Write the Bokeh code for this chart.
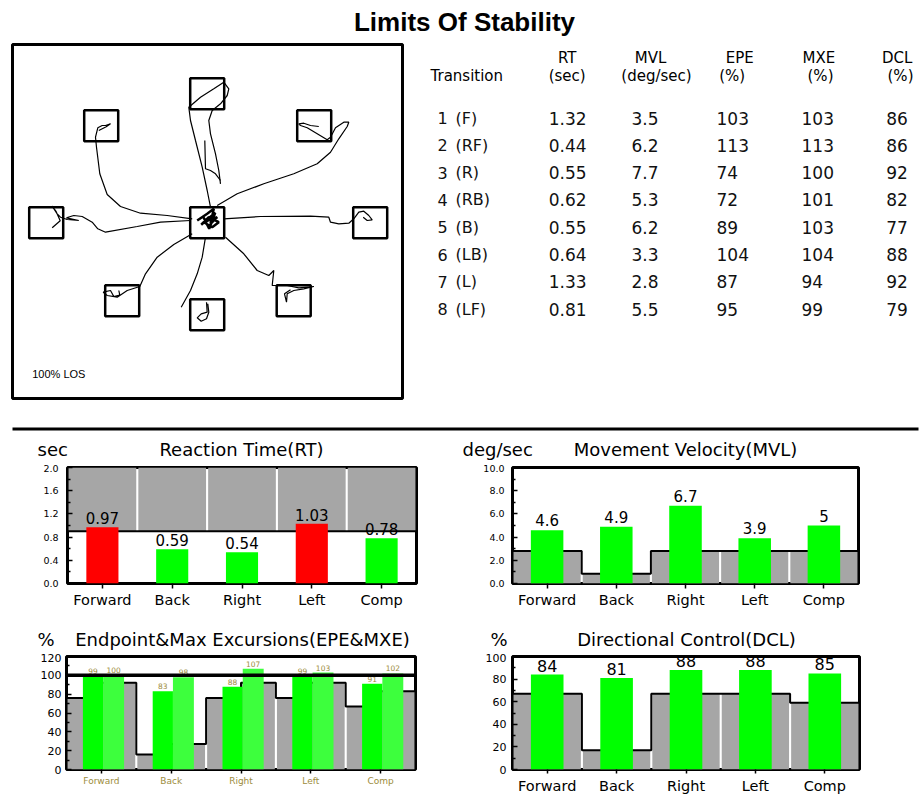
import numpy as np
from bokeh.plotting import figure
from bokeh.layouts import column, row
from bokeh.models import (ColumnDataSource, Range1d, FactorRange, Span,
                          FixedTicker, PrintfTickFormatter)
from bokeh.transform import dodge
from bokeh.core.properties import value
from bokeh.embed import file_html
from bokeh.resources import INLINE

# ---------------- data ----------------
MAIN_TITLE = "Limits Of Stability"
directions = ["Forward", "Back", "Right", "Left", "Comp"]

rt_values = [0.97, 0.59, 0.54, 1.03, 0.78]
rt_norm = [0.90, 0.90, 0.90, 0.90, 0.90]

mvl_values = [4.6, 4.9, 6.7, 3.9, 5.0]
mvl_labels = ["4.6", "4.9", "6.7", "3.9", "5"]
mvl_norm = [2.8, 0.85, 2.8, 2.8, 2.8]

epe_values = [99, 83, 88, 99, 91]
mxe_values = [100, 98, 107, 103, 102]
epe_norm = [76, 16, 76, 76, 67]
mxe_norm = [92, 27, 92, 92, 83]
epe_reference = 100

dcl_values = [84, 81, 88, 88, 85]
dcl_norm = [67, 17, 67, 67, 59]

chart_titles = ["Reaction Time(RT)", "Movement Velocity(MVL)",
                "Endpoint&Max Excursions(EPE&MXE)", "Directional Control(DCL)"]
chart_units = ["sec", "deg/sec", "%", "%"]

# summary table
tbl_num = ["1", "2", "3", "4", "5", "6", "7", "8"]
tbl_code = ["(F)", "(RF)", "(R)", "(RB)", "(B)", "(LB)", "(L)", "(LF)"]
tbl_rt = [1.32, 0.44, 0.55, 0.62, 0.55, 0.64, 1.33, 0.81]
tbl_mvl = [3.5, 6.2, 7.7, 5.3, 6.2, 3.3, 2.8, 5.5]
tbl_epe = [103, 113, 74, 72, 89, 104, 87, 95]
tbl_mxe = [103, 113, 100, 101, 103, 104, 94, 99]
tbl_dcl = [86, 86, 92, 82, 77, 88, 92, 79]
tbl_head1 = ["RT", "MVL", "EPE", "MXE", "DCL"]
tbl_head2 = ["(sec)", "(deg/sec)", "(%)", "(%)", "(%)"]

# LOS targets (centre + 8 directions), traces in the same units
target_x = [0, 0, 107, 163, 86.5, 0, -85, -161, -106]
target_y = [0, 129, 97, 0, -78, -92, -78, 0, 97]

trace_F = [(3.3, 15.5), (0, 32.2), (-5, 55.5), (-11.7, 82.2), (-16.7, 102.2), (-18.4, 115.5),
           (-6.7, 125.5), (6.6, 133.9), (16.6, 140.5), (21.6, 133.9), (20, 127.2), (13.3, 118.9),
           (5, 112.2), (1.6, 102.2), (3.3, 88.9), (8.3, 68.9), (11.6, 52.2), (13.3, 38.9)]
trace_F2 = [(-2.4, 82.2), (-1.7, 53.9), (3.3, 52.2), (8.3, 48.9), (13.3, 42.2)]
trace_RF = [(10, 17.2), (30, 28.9), (56.6, 38.9), (86.6, 48.9), (110, 58.9), (123.3, 70.5),
            (131.6, 83.9), (140, 96.2), (141.6, 100.5), (136.6, 100.5), (128.3, 94.9),
            (123.3, 85.5), (120, 82.9), (110, 88.9), (100, 94.9), (93.3, 97.2), (91.6, 98.9),
            (96.6, 99.5), (103.3, 97.2), (111.6, 96.2)]
trace_R = [(16.6, 3.9), (53.3, 6.2), (103.3, 6.5), (121.6, 5.5), (123.3, 0.5), (131.6, -1.1),
           (141.6, -0.5), (146.6, 3.9), (151.6, 10.5), (156.6, 11.5), (161.6, 7.2), (165, 2.9),
           (160, 2.2), (156, 5.5)]
trace_RB = [(18.3, -14.5), (36.6, -31.1), (50, -47.8), (61.6, -52.8), (66.6, -47.8), (65, -62.8),
            (80, -62.8), (91.6, -65.1), (106.6, -63.8), (96.6, -66.1), (86.6, -67.8), (80, -71.1),
            (79.3, -79.5), (77.3, -71.1), (83.3, -67.1)]
trace_B = [(-1.7, -14.5), (-5, -34.5), (-10, -51.1), (-16.7, -67.8), (-26, -84.5)]
trace_B2 = [(-0.7, -79.5), (0, -89.5), (-6, -91.1), (-10, -95.1), (-6, -98.5), (-0.7, -96.1),
            (1.6, -89.5), (0.6, -81.1)]
trace_LB = [(-15, -11.1), (-33.4, -21.8), (-50, -34.5), (-61.7, -51.1), (-67.4, -63.8),
            (-80, -67.8), (-90, -74.5), (-100, -72.8), (-104, -69.5), (-96.7, -67.8),
            (-93.4, -73.8), (-87.4, -72.5), (-88.4, -67.8)]
trace_L = [(-16.7, 2.2), (-46.7, 0.5), (-70, -3.8), (-101.7, -9.5), (-109.4, -6.1), (-115, 0.5),
           (-125, 6.2), (-133.4, 7.2), (-140.7, 4.9), (-128.4, 2.2), (-140, 3.2), (-146.7, 5.5),
           (-150, 8.9), (-155, 16.5), (-151, 11), (-147, 2), (-155, -5.1)]
trace_LF = [(-15, 3.9), (-40, 7.2), (-66.7, 9.5), (-86.7, 16.2), (-100, 28.2), (-107.4, 48.9),
            (-110.7, 75.5), (-111.7, 85.5), (-109.4, 94.9), (-105, 97.2), (-101.7, 97.2),
            (-96.7, 98.9), (-101, 96), (-108.4, 92.2)]
trace_C = [(-10, 2.2), (0, 8.9), (6.6, 13.9), (3.3, -1.1), (10, 5.5), (-3.4, 0.5), (5, -4.5),
           (11.6, 0.5), (1.6, 5.5), (-6, -2), (8, 10), (2, -6), (-4, 6)]
traces = [trace_F, trace_F2, trace_RF, trace_R, trace_RB, trace_B, trace_B2, trace_LB, trace_L, trace_LF]

# ---------------- styling ----------------
FONT = "DejaVu Sans"
GRAY = "#a6a6a6"
GREEN = "#00ff00"
GREEN2 = "#3dff3d"
RED = "#ff0000"
OLIVE = "#9c8c3c"
W = 921


def blank(width, height, xr, yr):
    p = figure(width=width, height=height, x_range=xr, y_range=yr, title=None,
               output_backend="svg", toolbar_location=None, tools="",
               x_axis_location=None, y_axis_location=None, min_border=0)
    p.grid.visible = False
    p.outline_line_color = None
    return p


def txt(p, x, y, s, size, align="left", font=FONT, style="normal", color="black"):
    p.text(x=[x], y=[y], text=[s], text_align=align, text_baseline="middle",
           text_font=value(font), text_font_style=style, text_font_size=size, text_color=color)


# title strip (page y 0-42)
title_fig = blank(W, 42, Range1d(0, W), Range1d(42, 0))
txt(title_fig, 464, 21, MAIN_TITLE, "26px", align="center", font="Liberation Sans", style="bold")

# trajectory plot (page y 42-414)
traj = figure(width=410, height=372, x_range=Range1d(-194.7, 195.3), y_range=Range1d(-175.8, 178.2),
              title=None, output_backend="svg", toolbar_location=None, tools="",
              x_axis_location=None, y_axis_location=None,
              min_border_left=12, min_border_right=8, min_border_top=2, min_border_bottom=16)
traj.grid.visible = False
traj.outline_line_color = "black"
traj.outline_line_width = 3
traj.rect(x=target_x, y=target_y, width=34, height=31, fill_color=None,
          line_color="black", line_width=2.5)
traj.multi_line(xs=[[p[0] for p in t] for t in traces], ys=[[p[1] for p in t] for t in traces],
                line_color="black", line_width=1.2)
traj.line(x=[p[0] for p in trace_C], y=[p[1] for p in trace_C], line_color="black", line_width=2.5)
traj.text(x=[-175], y=[-151], text=["100% LOS"], text_font=value("Liberation Sans"),
          text_font_size="11px", text_baseline="middle", text_color="black")

# table (page coordinates)
table = blank(W - 410, 372, Range1d(410, W), Range1d(414, 42))
head_x = [566.7, 650, 739.3, 818.3, 896.7]
head2_x = [566.7, 656, 731.7, 820, 900]
for hx, h in zip(head_x, tbl_head1):
    txt(table, hx, 56.7, h, "15px", align="center")
for hx, h in zip(head2_x, tbl_head2):
    txt(table, hx, 75, h, "15px", align="center")
txt(table, 430, 75, "Transition", "15px")
row_y = [119.3 + i * 28.7 for i in range(len(tbl_num))]
cols = [(437, tbl_num, "16px"), (455, tbl_code, "16px"),
        (548.3, [f"{v:.2f}" for v in tbl_rt], "17px"),
        (631, [f"{v:.1f}" for v in tbl_mvl], "17px"),
        (716, [str(v) for v in tbl_epe], "17px"),
        (801, [str(v) for v in tbl_mxe], "17px"),
        (885.7, [str(v) for v in tbl_dcl], "17px")]
for cx, texts, fs in cols:
    table.text(x=[cx] * len(texts), y=row_y, text=texts, text_align="left", text_baseline="middle",
               text_font=value(FONT), text_font_size=fs, text_color="#111111")

# separator + header of first chart row (page y 414-464)
head1 = blank(W, 50, Range1d(0, W), Range1d(464, 414))
head1.line(x=[12, 918], y=[428.5, 428.5], line_color="black", line_width=3)
txt(head1, 37, 449, chart_units[0], "18px")
txt(head1, 241, 449, chart_titles[0], "18px", align="center")
txt(head1, 462, 449, chart_units[1], "18px")
txt(head1, 685, 449, chart_titles[1], "18px", align="center")

# header of second chart row (page y 612-653)
head2 = blank(W, 41, Range1d(0, W), Range1d(653, 612))
txt(head2, 37, 639, chart_units[2], "18px")
txt(head2, 242, 639, chart_titles[2], "18px", align="center")
txt(head2, 490, 639, chart_units[3], "18px")
txt(head2, 686, 639, chart_titles[3], "18px", align="center")


def chart(width, height, borders, ymax, step, fmt, ytick_size, ystandoff,
          xlab_size, xlab_color, xtick_out, xstandoff):
    left, right, top, bottom = borders
    p = figure(width=width, height=height, title=None,
               x_range=FactorRange(*directions), y_range=Range1d(0, ymax),
               output_backend="svg", toolbar_location=None, tools="",
               min_border_left=left, min_border_right=right,
               min_border_top=top, min_border_bottom=bottom)
    p.grid.visible = False
    p.outline_line_color = "black"
    p.outline_line_width = 3
    ticks = list(np.round(np.arange(0, ymax + 1e-9, step), 6))
    minors = list(np.round(np.arange(step / 2, ymax, step), 6))
    ya = p.yaxis[0]
    ya.ticker = FixedTicker(ticks=ticks, minor_ticks=minors)
    ya.formatter = PrintfTickFormatter(format=fmt)
    ya.axis_line_color = None
    ya.major_tick_in = 5
    ya.major_tick_out = 0
    ya.minor_tick_in = 3
    ya.minor_tick_out = 0
    ya.major_tick_line_width = 1.5
    ya.minor_tick_line_width = 1.5
    ya.major_label_text_font = FONT
    ya.major_label_text_font_size = ytick_size
    ya.major_label_standoff = ystandoff
    ya.major_label_text_color = "black"
    xa = p.xaxis[0]
    xa.axis_line_color = None
    xa.major_tick_in = 0
    xa.major_tick_out = xtick_out
    xa.major_tick_line_width = 1.5
    xa.major_label_text_font = FONT
    xa.major_label_text_font_size = xlab_size
    xa.major_label_text_color = xlab_color
    xa.major_label_standoff = xstandoff
    return p


edges = list(range(len(directions) + 1))

# Reaction time (page y 464-612)
rt = chart(460, 148, (67, 44, 3, 29), 2.0, 0.4, "%.1f", "9.5px", 9, "14.5px", "black", 5, 3)
rt.vbar(x=directions, bottom=rt_norm, top=2.0, width=0.97, fill_color=GRAY, line_color=None)
rt.step(x=edges, y=rt_norm + [rt_norm[-1]], mode="after", line_color="black", line_width=2)
rt_src = ColumnDataSource(dict(cat=directions, v=rt_values, lab=[f"{v:.2f}" for v in rt_values],
                               c=[RED if v > n else GREEN for v, n in zip(rt_values, rt_norm)]))
rt.vbar(x="cat", top="v", width=0.46, fill_color="c", line_color=None, source=rt_src)
rt.text(x="cat", y="v", text="lab", source=rt_src, text_align="center", text_baseline="bottom",
        y_offset=-3, text_font=value(FONT), text_font_size="15px", text_color="black")

# Movement velocity
mvl = chart(461, 148, (52, 63, 3, 29), 10.0, 2.0, "%.1f", "9.5px", 8, "14.5px", "black", 5, 3)
mvl.vbar(x=directions, top=mvl_norm, width=0.97, fill_color=GRAY, line_color=None)
mvl.step(x=edges, y=mvl_norm + [mvl_norm[-1]], mode="after", line_color="black", line_width=2)
mvl_src = ColumnDataSource(dict(cat=directions, v=mvl_values, lab=mvl_labels))
mvl.vbar(x="cat", top="v", width=0.47, fill_color=GREEN, line_color=None, source=mvl_src)
mvl.text(x="cat", y="v", text="lab", source=mvl_src, text_align="center", text_baseline="bottom",
         y_offset=-4, text_font=value(FONT), text_font_size="15px", text_color="black")

# Endpoint & max excursions (page y 653-796)
epe = chart(460, 143, (66, 45, 3, 25), 120, 20, "%d", "11px", 5, "9px", OLIVE, 4, 2)
epe_src = ColumnDataSource(dict(cat=directions, epe=epe_values, mxe=mxe_values,
                                en=epe_norm, mn=mxe_norm,
                                elab=[str(v) for v in epe_values],
                                mlab=[str(v) for v in mxe_values]))
epe.vbar(x=dodge("cat", -0.2425, range=epe.x_range), top="en", width=0.485,
         fill_color=GRAY, line_color=None, source=epe_src)
epe.vbar(x=dodge("cat", 0.2425, range=epe.x_range), top="mn", width=0.485,
         fill_color=GRAY, line_color=None, source=epe_src)
half_edges = [e / 2 for e in range(2 * len(directions) + 1)]
half_levels = [v for pair in zip(epe_norm, mxe_norm) for v in pair] + [mxe_norm[-1]]
epe.step(x=half_edges, y=half_levels, mode="after", line_color="black", line_width=2)
epe.vbar(x=dodge("cat", -0.12, range=epe.x_range), top="epe", width=0.29,
         fill_color=GREEN, line_color=None, source=epe_src)
epe.vbar(x=dodge("cat", 0.175, range=epe.x_range), top="mxe", width=0.30,
         fill_color=GREEN2, line_color=None, source=epe_src)
epe.text(x=dodge("cat", -0.12, range=epe.x_range), y="epe", text="elab", source=epe_src,
         text_align="center", text_baseline="bottom", y_offset=-2, text_font=value(FONT),
         text_font_size="7.5px", text_color=OLIVE)
epe.text(x=dodge("cat", 0.175, range=epe.x_range), y="mxe", text="mlab", source=epe_src,
         text_align="center", text_baseline="bottom", y_offset=-2, text_font=value(FONT),
         text_font_size="7.5px", text_color=OLIVE)
epe.add_layout(Span(location=epe_reference, dimension="width", line_color="black", line_width=3.5))

# Directional control
dcl = chart(461, 143, (52, 62, 2, 26), 100, 20, "%d", "11px", 6, "14.5px", "black", 4, 4)
dcl.vbar(x=directions, top=dcl_norm, width=0.97, fill_color=GRAY, line_color=None)
dcl.step(x=edges, y=dcl_norm + [dcl_norm[-1]], mode="after", line_color="black", line_width=2)
dcl_src = ColumnDataSource(dict(cat=directions, v=dcl_values, lab=[str(v) for v in dcl_values]))
dcl.vbar(x="cat", top="v", width=0.47, fill_color=GREEN, line_color=None, source=dcl_src)
dcl.text(x="cat", y="v", text="lab", source=dcl_src, text_align="center", text_baseline="bottom",
         y_offset=-3, text_font=value(FONT), text_font_size="16px", text_color="black")

layout = column(title_fig, row(traj, table), head1, row(rt, mvl), head2, row(epe, dcl))

open("out.html", "w").write(file_html(layout, INLINE, title="Limits Of Stability"))
